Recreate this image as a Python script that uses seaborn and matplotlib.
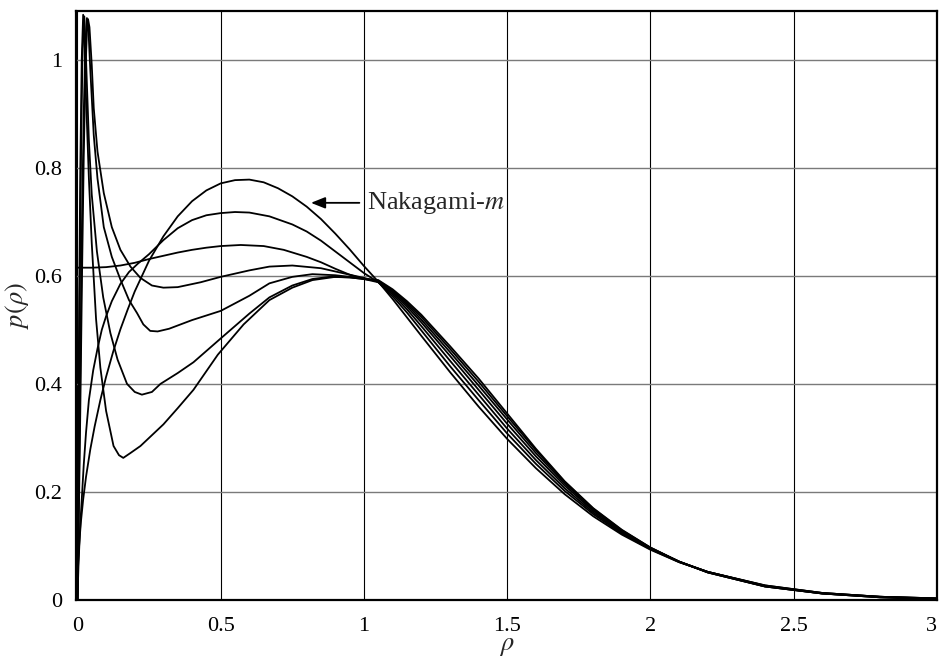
import numpy as np
import pandas as pd
import matplotlib
matplotlib.use("Agg")
import matplotlib.pyplot as plt
import seaborn as sns

# ---------------- data ----------------
rho_tail = [1.05, 1.1, 1.15, 1.2, 1.3, 1.4, 1.5, 1.6, 1.7, 1.8, 1.9, 2.0,
            2.1, 2.2, 2.4, 2.6, 2.8, 3.0]

nak_rho = [0, 0.002, 0.006, 0.012, 0.02, 0.03, 0.045, 0.06, 0.08, 0.1, 0.125,
           0.15, 0.175, 0.2, 0.25, 0.3, 0.35, 0.4, 0.45, 0.5, 0.55, 0.6, 0.65,
           0.7, 0.75, 0.8, 0.85, 0.9, 0.95, 1.0]
nak_p = [0, 0.059, 0.102, 0.144, 0.186, 0.228, 0.279, 0.321, 0.370, 0.413,
         0.460, 0.501, 0.537, 0.571, 0.628, 0.673, 0.710, 0.738, 0.758, 0.771,
         0.777, 0.778, 0.773, 0.762, 0.747, 0.728, 0.705, 0.678, 0.649, 0.618]
nak_tail = [0.589, 0.557, 0.523, 0.489, 0.422, 0.358, 0.298, 0.244, 0.196,
            0.155, 0.121, 0.093, 0.070, 0.052, 0.027, 0.013, 0.006, 0.003]

c2_rho = [0, 0.004, 0.01, 0.015, 0.022, 0.03, 0.04, 0.055, 0.07, 0.085, 0.1,
          0.12, 0.15, 0.18, 0.21, 0.25, 0.3, 0.35, 0.4, 0.45, 0.5, 0.55, 0.6,
          0.67, 0.75, 0.8, 0.85, 0.9, 0.95, 1.0]
c2_p = [0, 0.07, 0.14, 0.185, 0.25, 0.31, 0.37, 0.425, 0.465, 0.50, 0.525,
        0.553, 0.585, 0.607, 0.622, 0.64, 0.666, 0.688, 0.703, 0.712, 0.716,
        0.718, 0.717, 0.71, 0.695, 0.682, 0.665, 0.645, 0.625, 0.605]
c2_tail = [0.588, 0.562, 0.532, 0.499, 0.433, 0.370, 0.308, 0.252, 0.202,
           0.159, 0.123, 0.094, 0.070, 0.052, 0.027, 0.013, 0.006, 0.003]

c3_rho = [0, 0.05, 0.1, 0.15, 0.2, 0.25, 0.3, 0.35, 0.4, 0.45, 0.5, 0.57,
          0.65, 0.72, 0.8, 0.85, 0.9, 0.95, 1.0]
c3_p = [0.615, 0.615, 0.616, 0.619, 0.624, 0.631, 0.637, 0.643, 0.648, 0.652,
        0.655, 0.657, 0.655, 0.648, 0.635, 0.625, 0.613, 0.602, 0.594]
c3_tail = [0.588, 0.566, 0.538, 0.507, 0.443, 0.380, 0.317, 0.259, 0.207,
           0.162, 0.125, 0.095, 0.071, 0.052, 0.026, 0.013, 0.006, 0.003]

d1_rho = [0, 0.004, 0.01, 0.016, 0.022, 0.028, 0.033, 0.037, 0.042, 0.05,
          0.057, 0.07, 0.092, 0.12, 0.15, 0.185, 0.22, 0.26, 0.3, 0.35, 0.43,
          0.5, 0.6, 0.67, 0.75, 0.85, 0.95, 1.0]
d1_p = [0, 0.12, 0.35, 0.6, 0.82, 0.98, 1.05, 1.075, 1.06, 0.99, 0.91, 0.83,
        0.753, 0.69, 0.648, 0.617, 0.596, 0.582, 0.578, 0.579, 0.588, 0.598,
        0.61, 0.617, 0.619, 0.614, 0.602, 0.596]
d1_tail = [0.589, 0.569, 0.543, 0.514, 0.452, 0.389, 0.326, 0.266, 0.212,
           0.165, 0.127, 0.096, 0.071, 0.052, 0.026, 0.012, 0.006, 0.002]

d2_rho = [0, 0.004, 0.01, 0.016, 0.022, 0.028, 0.033, 0.038, 0.045, 0.057,
          0.07, 0.092, 0.12, 0.15, 0.18, 0.208, 0.23, 0.254, 0.28, 0.32, 0.4,
          0.5, 0.6, 0.67, 0.75, 0.82, 0.9, 0.95, 1.0]
d2_p = [0, 0.15, 0.42, 0.7, 0.9, 1.03, 1.077, 1.06, 0.98, 0.86, 0.78, 0.69,
        0.635, 0.593, 0.555, 0.531, 0.51, 0.498, 0.497, 0.502, 0.518, 0.535,
        0.563, 0.586, 0.598, 0.603, 0.601, 0.598, 0.595]
d2_tail = [0.590, 0.571, 0.547, 0.519, 0.459, 0.397, 0.334, 0.272, 0.216,
           0.167, 0.128, 0.096, 0.071, 0.051, 0.025, 0.012, 0.005, 0.002]

d3_rho = [0, 0.003, 0.008, 0.013, 0.018, 0.024, 0.03, 0.04, 0.05, 0.068, 0.09,
          0.115, 0.14, 0.173, 0.2, 0.225, 0.26, 0.29, 0.35, 0.405, 0.5, 0.6,
          0.67, 0.75, 0.82, 0.88, 0.95, 1.0]
d3_p = [0, 0.2, 0.55, 0.85, 1.02, 1.08, 1.0, 0.85, 0.75, 0.645, 0.56, 0.494,
        0.445, 0.40, 0.385, 0.38, 0.385, 0.40, 0.42, 0.44, 0.484, 0.53, 0.56,
        0.582, 0.594, 0.598, 0.597, 0.594]
d3_tail = [0.591, 0.573, 0.550, 0.524, 0.465, 0.404, 0.340, 0.277, 0.219,
           0.169, 0.129, 0.097, 0.071, 0.051, 0.025, 0.012, 0.005, 0.002]

d4_rho = [0, 0.002, 0.006, 0.01, 0.015, 0.02, 0.025, 0.03, 0.04, 0.05, 0.065,
          0.08, 0.1, 0.126, 0.145, 0.16, 0.185, 0.22, 0.25, 0.3, 0.35, 0.405,
          0.49, 0.58, 0.67, 0.75, 0.82, 0.9, 0.95, 1.0]
d4_p = [0, 0.2, 0.55, 0.8, 1.0, 1.083, 1.02, 0.93, 0.78, 0.66, 0.52, 0.43,
        0.35, 0.285, 0.268, 0.263, 0.272, 0.285, 0.3, 0.325, 0.355, 0.389,
        0.454, 0.51, 0.555, 0.578, 0.592, 0.598, 0.597, 0.594]
d4_tail = [0.592, 0.575, 0.553, 0.528, 0.470, 0.410, 0.345, 0.280, 0.220,
           0.170, 0.130, 0.097, 0.071, 0.051, 0.025, 0.012, 0.005, 0.002]

x_ticks = [0, 0.5, 1, 1.5, 2, 2.5, 3]
x_ticklabels = ["0", "0.5", "1", "1.5", "2", "2.5", "3"]
y_ticks = [0, 0.2, 0.4, 0.6, 0.8, 1.0]
y_ticklabels = ["0", "0.2", "0.4", "0.6", "0.8", "1"]
annotation_text = "Nakagami-$m$"

curves = {
    "nak": (nak_rho, nak_p, nak_tail),
    "c2": (c2_rho, c2_p, c2_tail),
    "c3": (c3_rho, c3_p, c3_tail),
    "d1": (d1_rho, d1_p, d1_tail),
    "d2": (d2_rho, d2_p, d2_tail),
    "d3": (d3_rho, d3_p, d3_tail),
    "d4": (d4_rho, d4_p, d4_tail),
}
rows = []
for name, (r, p, t) in curves.items():
    for xv, yv in zip(list(r) + rho_tail, list(p) + t):
        rows.append((name, xv, yv))
df = pd.DataFrame(rows, columns=["curve", "rho", "p"])

# ---------------- plotting ----------------
sns.set_style("white")
plt.rcParams["font.family"] = ["Liberation Serif", "DejaVu Serif"]
plt.rcParams["mathtext.fontset"] = "stix"

fig = plt.figure(figsize=(9.39, 6.62), dpi=100)
ax = fig.add_axes([76 / 939, 1 - 600 / 662, (937 - 76) / 939, (600 - 11) / 662])

sns.lineplot(data=df, x="rho", y="p", units="curve", estimator=None,
             sort=False, color="black", lw=1.3, legend=False, ax=ax)

ax.set_xlim(-0.005, 3.0)
ax.set_ylim(0, 1.09)
ax.set_xticks(x_ticks)
ax.set_xticklabels(x_ticklabels)
ax.set_yticks(y_ticks)
ax.set_yticklabels(y_ticklabels)
ax.tick_params(axis="both", length=0, labelsize=16, colors="black")
ax.tick_params(axis="x", pad=12)
ax.tick_params(axis="y", pad=10)
xt = ax.get_xticklabels()
xt[-1].set_horizontalalignment("right")
xt[-1].set_x(3.0)

ax.set_axisbelow(True)
ax.xaxis.grid(True, color="black", lw=0.8)
ax.yaxis.grid(True, color="#7a7a7a", lw=1.0)

for s in ax.spines.values():
    s.set_visible(True)
    s.set_color("black")
    s.set_linewidth(1.6)

ax.set_xlabel(r"$\rho$", fontsize=19, labelpad=0)
ax.set_ylabel(r"$p(\rho)$", fontsize=19, labelpad=2)

ax.annotate(annotation_text, xy=(0.815, 0.735), xytext=(1.01, 0.735),
            fontsize=19, va="center", ha="left",
            arrowprops=dict(arrowstyle="-|>,head_length=0.45,head_width=0.18",
                            color="black", lw=1.3, shrinkA=3, shrinkB=0))

fig.savefig("out.png", dpi=100)
